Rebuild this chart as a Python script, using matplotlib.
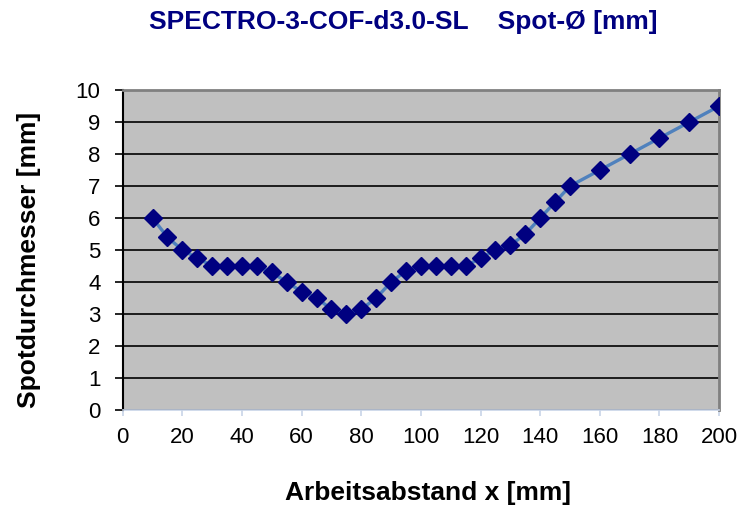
import matplotlib
matplotlib.use("Agg")
import matplotlib.pyplot as plt

x_mm = [10, 15, 20, 25, 30, 35, 40, 45, 50, 55, 60, 65, 70, 75, 80, 85, 90, 95,
        100, 105, 110, 115, 120, 125, 130, 135, 140, 145, 150, 160, 170, 180, 190, 200]
spot_mm = [6.0, 5.4, 5.0, 4.75, 4.5, 4.5, 4.5, 4.5, 4.3, 4.0, 3.7, 3.5, 3.15, 3.0, 3.15, 3.5, 4.0, 4.35,
           4.5, 4.5, 4.5, 4.5, 4.75, 5.0, 5.15, 5.5, 6.0, 6.5, 7.0, 7.5, 8.0, 8.5, 9.0, 9.5]
x_ticks = list(range(0, 201, 20))
y_ticks = list(range(0, 11))

plt.rcParams['font.family'] = ['Liberation Sans', 'DejaVu Sans']

fig = plt.figure(figsize=(7.53, 5.09), dpi=100)
ax = fig.add_axes([0.163, 0.1945, 0.792, 0.6285])
ax.set_facecolor('#C0C0C0')
ax.plot(x_mm, spot_mm, color='#4F81BD', lw=2.4, marker='D', ms=9,
        markerfacecolor='#000080', markeredgecolor='#000080', zorder=3)
ax.set_xlim(0, 200)
ax.set_ylim(0, 10)
ax.set_xticks(x_ticks)
ax.set_yticks(y_ticks)
ax.yaxis.grid(True, color='black', lw=1.2)
ax.set_axisbelow(True)
ax.tick_params(axis='both', labelsize=16)
ax.tick_params(axis='y', direction='out', length=6, color='black', width=1.2, pad=10)
ax.tick_params(axis='x', direction='out', length=4, color='#C8D4E8', width=1.2, pad=8)
ax.spines['left'].set_color('black')
ax.spines['left'].set_linewidth(1.5)
for s in ['top', 'right']:
    ax.spines[s].set_color('#808080')
    ax.spines[s].set_linewidth(2)
ax.spines['bottom'].set_color('#C8D4E8')
ax.spines['bottom'].set_linewidth(1.2)

fig.text(0.568, 0.031, 'Arbeitsabstand x [mm]', ha='center', va='center',
         fontsize=19, fontweight='bold')
fig.text(0.039, 0.489, 'Spotdurchmesser [mm]', ha='center', va='center', rotation=90,
         fontsize=19, fontweight='bold')
fig.text(0.535, 0.957, 'SPECTRO-3-COF-d3.0-SL    Spot-Ø [mm]', ha='center', va='center',
         fontsize=19, fontweight='bold', color='#000080')

fig.savefig('out.png', dpi=100)
